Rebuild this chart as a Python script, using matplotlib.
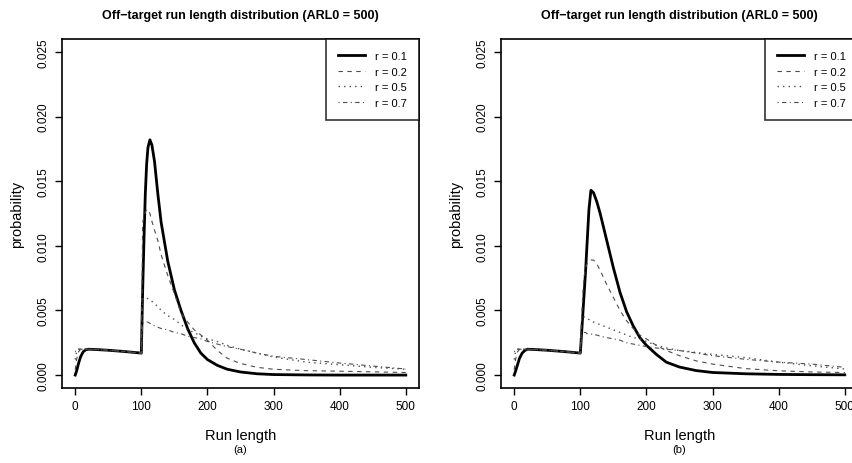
import matplotlib
matplotlib.use("Agg")
import matplotlib.pyplot as plt

plt.rcParams['font.family'] = ['Liberation Sans', 'DejaVu Sans']

# run length grid shared by all curves
run_length = [0, 2, 5, 8, 12, 16, 20, 30, 50, 75, 100, 102, 104, 106, 108, 110, 113, 116,
              120, 125, 130, 140, 150, 160, 170, 180, 190, 200, 215, 230, 250, 275, 300,
              350, 400, 450, 500]

# panel (a)
a_r01 = [0, 0.0003, 0.0009, 0.0014, 0.0018, 0.00196, 0.0020, 0.00198, 0.00192, 0.00182, 0.0017,
         0.0065, 0.0105, 0.0140, 0.0163, 0.0176, 0.0182, 0.0178, 0.0165, 0.0140, 0.0118, 0.0088,
         0.0066, 0.0050, 0.0036, 0.0025, 0.0017, 0.0012, 0.00075, 0.00045, 0.00024, 0.0001,
         0.00004, 0.00001, 0.0, 0.0, 0.0]
a_r02 = [0.0004, 0.0012, 0.0018, 0.0020, 0.0020, 0.0020, 0.0020, 0.00198, 0.00192, 0.00182, 0.0017,
         0.0118, 0.0123, 0.0126, 0.0128, 0.0128, 0.0125, 0.0119, 0.0112, 0.0104, 0.0093, 0.0077,
         0.0063, 0.0048, 0.0041, 0.0035, 0.0031, 0.0027, 0.0019, 0.0013, 0.0009, 0.0006,
         0.00045, 0.00034, 0.0003, 0.00025, 0.0002]
a_r05 = [0.0012, 0.0018, 0.0020, 0.0020, 0.0020, 0.0020, 0.0020, 0.00198, 0.00192, 0.00182, 0.0017,
         0.0058, 0.0060, 0.0060, 0.0060, 0.0059, 0.0058, 0.0057, 0.0055, 0.0053, 0.0050, 0.0046,
         0.0043, 0.0039, 0.0035, 0.0033, 0.0030, 0.0028, 0.0026, 0.0023, 0.0020, 0.0017,
         0.0014, 0.0010, 0.0008, 0.0006, 0.00045]
a_r07 = [0.0018, 0.0020, 0.0020, 0.0020, 0.0020, 0.0020, 0.0020, 0.00198, 0.00192, 0.00182, 0.0017,
         0.0040, 0.0041, 0.0041, 0.0041, 0.0041, 0.0040, 0.0039, 0.0038, 0.0037, 0.0036, 0.0035,
         0.0033, 0.0032, 0.0030, 0.0029, 0.0028, 0.0026, 0.0024, 0.0022, 0.0020, 0.0017,
         0.00145, 0.0012, 0.00093, 0.0007, 0.00047]

# panel (b)
b_r01 = [0, 0.0003, 0.0008, 0.0013, 0.0017, 0.0019, 0.0020, 0.00198, 0.00192, 0.00182, 0.0017,
         0.0033, 0.0049, 0.0065, 0.0081, 0.0100, 0.0128, 0.0143, 0.0141, 0.0134, 0.0125, 0.0104,
         0.0083, 0.0064, 0.0049, 0.0038, 0.0029, 0.0023, 0.0016, 0.0010, 0.00062, 0.00035,
         0.0002, 0.0001, 0.00005, 0.00003, 0.00002]
b_r02 = [0.0004, 0.0012, 0.0018, 0.0020, 0.0020, 0.0020, 0.0020, 0.00198, 0.00192, 0.00182, 0.0017,
         0.0045, 0.0065, 0.0077, 0.0083, 0.0086, 0.0088, 0.0089, 0.0089, 0.0086, 0.0081, 0.0070,
         0.0060, 0.0050, 0.0042, 0.0036, 0.0031, 0.0028, 0.0023, 0.0019, 0.0015, 0.0011,
         0.00085, 0.0005, 0.00033, 0.00024, 0.0002]
b_r05 = [0.0012, 0.0018, 0.0020, 0.0020, 0.0020, 0.0020, 0.0020, 0.00198, 0.00192, 0.00182, 0.0017,
         0.0043, 0.0045, 0.0045, 0.0044, 0.0044, 0.0043, 0.0042, 0.0041, 0.0040, 0.0039, 0.0037,
         0.0035, 0.0033, 0.0031, 0.0029, 0.0028, 0.0026, 0.0023, 0.0021, 0.0019, 0.00175,
         0.0016, 0.00135, 0.0010, 0.00072, 0.00047]
b_r07 = [0.0018, 0.0020, 0.0020, 0.0020, 0.0020, 0.0020, 0.0020, 0.00198, 0.00192, 0.00182, 0.0017,
         0.0032, 0.0033, 0.0033, 0.0033, 0.0032, 0.0032, 0.0032, 0.0031, 0.0031, 0.0030, 0.0029,
         0.0028, 0.0027, 0.0025, 0.0024, 0.0023, 0.0022, 0.0021, 0.0020, 0.0019, 0.0017,
         0.0015, 0.00122, 0.0010, 0.00085, 0.0006]

labels = ["r = 0.1", "r = 0.2", "r = 0.5", "r = 0.7"]
x_ticks = [0, 100, 200, 300, 400, 500]
y_ticks = [0.000, 0.005, 0.010, 0.015, 0.020, 0.025]

styles = [dict(color="black", lw=2.0, ls="-"),
          dict(color="0.3", lw=0.8, ls=(0, (4, 4))),
          dict(color="0.3", lw=1.0, ls=(0, (1, 3))),
          dict(color="0.3", lw=0.8, ls=(0, (1, 3, 4, 3)))]


def draw_panel(ax, series, tag):
    for y, lab, st in zip(series, labels, styles):
        ax.plot(run_length, y, label=lab, **st)
    ax.set_xlim(-20, 520)
    ax.set_ylim(-0.001, 0.026)
    ax.set_xticks(x_ticks)
    ax.set_yticks(y_ticks)
    ax.set_yticklabels(["%.3f" % v for v in y_ticks])
    for lbl in ax.get_yticklabels():
        lbl.set_rotation(90)
        lbl.set_va("center")
    ax.tick_params(direction="out", length=5, width=1, labelsize=8.5, pad=4)
    for sp in ax.spines.values():
        sp.set_linewidth(1.2)
    ax.set_title("Off\u2212target run length distribution (ARL0 = 500)",
                 fontsize=9, fontweight="bold", pad=15)
    ax.set_xlabel("Run length", fontsize=10.5, labelpad=11)
    ax.set_ylabel("probability", fontsize=10.5, labelpad=10)
    ax.text(0.5, -0.175, tag, transform=ax.transAxes, ha="center", va="center", fontsize=8)
    leg = ax.legend(loc="upper right", fontsize=8, frameon=True, fancybox=False,
                    borderaxespad=0, handlelength=2.4, handletextpad=0.9,
                    labelspacing=0.5, borderpad=1.1)
    leg.get_frame().set_edgecolor("black")
    leg.get_frame().set_linewidth(1.2)


fig = plt.figure(figsize=(8.53, 4.64), dpi=100)
ax1 = fig.add_axes([62 / 853, 75 / 464, 357 / 853, 349 / 464])
ax2 = fig.add_axes([501 / 853, 75 / 464, 357 / 853, 349 / 464])

draw_panel(ax1, [a_r01, a_r02, a_r05, a_r07], "(a)")
draw_panel(ax2, [b_r01, b_r02, b_r05, b_r07], "(b)")

fig.savefig("out.png", dpi=100)
